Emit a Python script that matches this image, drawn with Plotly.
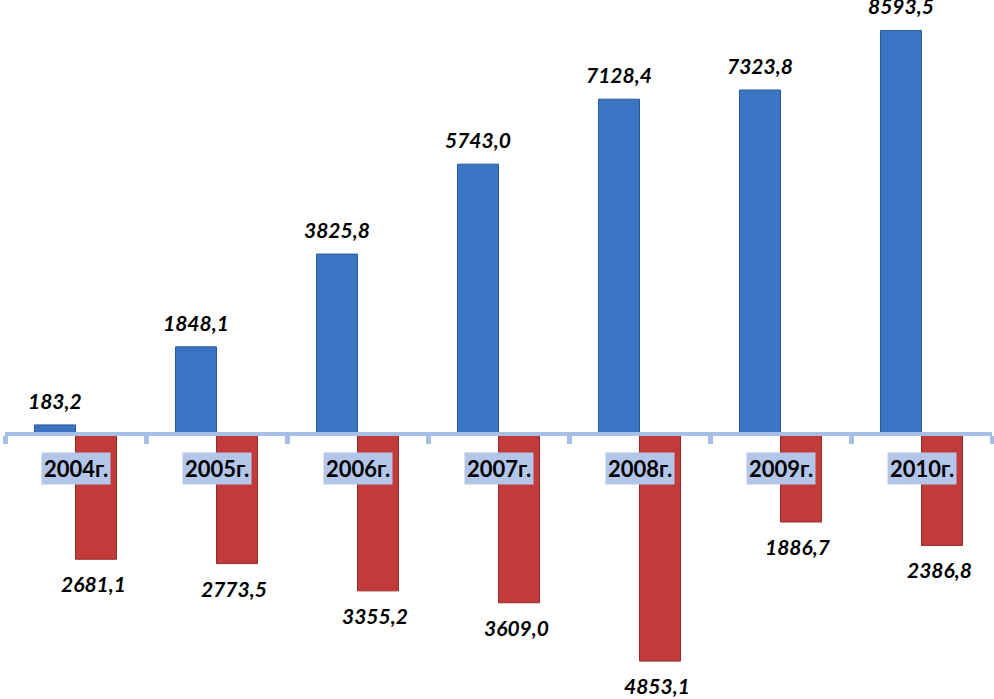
import plotly.graph_objects as go

categories = ["2004г.", "2005г.", "2006г.", "2007г.", "2008г.", "2009г.", "2010г."]
blue_values = [183.2, 1848.1, 3825.8, 5743.0, 7128.4, 7323.8, 8593.5]
red_values = [2681.1, 2773.5, 3355.2, 3609.0, 4853.1, 1886.7, 2386.8]

def fmt(v):
    return f"{v:.1f}".replace(".", ",")

W, H = 994, 699
ML, MR, MT, MB = 5, 2, 0, 0
BARGAP = 0.418
ZERO_PX = 433.5
PX_PER_UNIT = 0.0469
ymax = ZERO_PX / PX_PER_UNIT
ymin = -(H - MT - MB - ZERO_PX) / PX_PER_UNIT
zero_pos = (0 - ymin) / (ymax - ymin)

idx = list(range(len(categories)))
half = (1 - BARGAP) / 2  # width of one bar in category units

fig = go.Figure()
fig.add_trace(go.Bar(
    x=idx, y=blue_values, name="blue",
    marker=dict(color="#3b74c2", line=dict(color="#2c5a98", width=1)),
    hoverinfo="skip",
))
fig.add_trace(go.Bar(
    x=idx, y=[-v for v in red_values], name="red",
    marker=dict(color="#c23b3b", line=dict(color="#962b2b", width=1)),
    hoverinfo="skip",
))

label_font = dict(family="Lato", size=21, color="black", weight="bold", style="italic")
annotations = []
for i, v in enumerate(blue_values):
    annotations.append(dict(
        x=i - half / 2, y=v, xref="x", yref="y", text=fmt(v),
        showarrow=False, yanchor="bottom", yshift=10, font=label_font,
    ))
for i, v in enumerate(red_values):
    annotations.append(dict(
        x=i + half / 2, y=-v, xref="x", yref="y", text=fmt(v),
        showarrow=False, yanchor="top", yshift=-10, xshift=-3, font=label_font,
    ))
for i, c in enumerate(categories):
    annotations.append(dict(
        x=i, y=0, xref="x", yref="y", text=c, showarrow=False,
        yanchor="top", yshift=-18,
        font=dict(family="Lato", size=22, color="black", weight="bold"),
        bgcolor="#b3c5e9", borderpad=2,
    ))

fig.update_layout(
    width=W, height=H,
    margin=dict(l=ML, r=MR, t=MT, b=MB),
    paper_bgcolor="white", plot_bgcolor="white",
    barmode="group", bargap=BARGAP, bargroupgap=0,
    showlegend=False,
    annotations=annotations,
    xaxis=dict(
        range=[-0.5, len(categories) - 0.5],
        anchor="free", position=zero_pos,
        showline=True, linecolor="#a7bee6", linewidth=4,
        ticks="outside", ticklen=8, tickwidth=5, tickcolor="#a7bee6",
        tickmode="array", tickvals=[i - 0.5 for i in range(len(categories) + 1)],
        showticklabels=False, showgrid=False, zeroline=False,
        fixedrange=True,
    ),
    yaxis=dict(
        range=[ymin, ymax], visible=False, showgrid=False, zeroline=False,
        fixedrange=True,
    ),
)

fig.write_html(
    "out.html",
    config={"displayModeBar": False},
    post_script="document.body.style.margin='0';document.body.style.overflow='hidden';",
)
